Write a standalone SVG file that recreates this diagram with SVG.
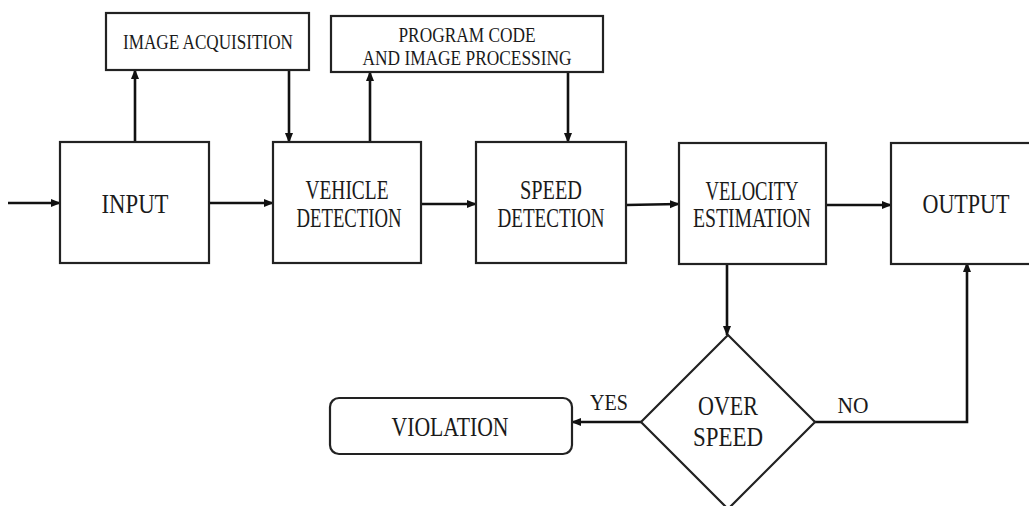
<svg xmlns="http://www.w3.org/2000/svg" width="1029" height="506" viewBox="0 0 1029 506">
<style>
.box{fill:#fff;stroke:#222;stroke-width:2.2}
.t{font-family:"Liberation Serif","Times New Roman",serif;fill:#1a1a1a;text-anchor:middle}
.big{font-size:27px}
.sm{font-size:20px}
.ln{fill:none;stroke:#111;stroke-width:2.6}
</style>
<defs>
<marker id="ah" viewBox="0 0 10 10" refX="9" refY="5" markerWidth="4" markerHeight="4" orient="auto" markerUnits="strokeWidth">
<path d="M0,1 L10,5 L0,9 z" fill="#111"/>
</marker>
</defs>
<rect width="1029" height="506" fill="#fff"/>
<g id="connectors">
<path class="ln" d="M8,203 L60,203" marker-end="url(#ah)"/>
<path class="ln" d="M209,203 L273,203" marker-end="url(#ah)"/>
<path class="ln" d="M421,204 L476,204" marker-end="url(#ah)"/>
<path class="ln" d="M626,205 L679,204" marker-end="url(#ah)"/>
<path class="ln" d="M826,205 L891,205" marker-end="url(#ah)"/>
<path class="ln" d="M135,142 L135,70" marker-end="url(#ah)"/>
<path class="ln" d="M289,70 L289,142" marker-end="url(#ah)"/>
<path class="ln" d="M370,142 L370,72" marker-end="url(#ah)"/>
<path class="ln" d="M568,72 L568,142" marker-end="url(#ah)"/>
<path class="ln" d="M727,263 L727,335" marker-end="url(#ah)"/>
<path class="ln" d="M641,422 L572,422" marker-end="url(#ah)"/>
<path class="ln" d="M815,422 L967,422 L967,263" marker-end="url(#ah)"/>
<text class="t" x="609" y="410" font-size="23" textLength="38" lengthAdjust="spacingAndGlyphs">YES</text>
<text class="t" x="853" y="413" font-size="23" textLength="31" lengthAdjust="spacingAndGlyphs">NO</text>
</g>
<g id="image-acquisition">
<rect class="box" x="106" y="13" width="203" height="57"/>
<text class="t sm" x="208" y="49" textLength="170" lengthAdjust="spacingAndGlyphs">IMAGE ACQUISITION</text>
</g>
<g id="program-code">
<rect class="box" x="331" y="16" width="272" height="56"/>
<text class="t sm" x="467" y="42" textLength="137" lengthAdjust="spacingAndGlyphs">PROGRAM CODE</text>
<text class="t sm" x="467" y="65" textLength="209" lengthAdjust="spacingAndGlyphs">AND IMAGE PROCESSING</text>
</g>
<g id="input">
<rect class="box" x="60" y="142" width="149" height="121"/>
<text class="t big" x="135" y="213" textLength="67" lengthAdjust="spacingAndGlyphs">INPUT</text>
</g>
<g id="vehicle-detection">
<rect class="box" x="273" y="142" width="148" height="121"/>
<text class="t big" x="347" y="199" textLength="83" lengthAdjust="spacingAndGlyphs">VEHICLE</text>
<text class="t big" x="349" y="227" textLength="105" lengthAdjust="spacingAndGlyphs">DETECTION</text>
</g>
<g id="speed-detection">
<rect class="box" x="476" y="142" width="150" height="121"/>
<text class="t big" x="551" y="199" textLength="62" lengthAdjust="spacingAndGlyphs">SPEED</text>
<text class="t big" x="551" y="227" textLength="107" lengthAdjust="spacingAndGlyphs">DETECTION</text>
</g>
<g id="velocity-estimation">
<rect class="box" x="679" y="143" width="147" height="121"/>
<text class="t big" x="752" y="200" textLength="93" lengthAdjust="spacingAndGlyphs">VELOCITY</text>
<text class="t big" x="752" y="227" textLength="118" lengthAdjust="spacingAndGlyphs">ESTIMATION</text>
</g>
<g id="output">
<rect class="box" x="891" y="143" width="150" height="121"/>
<text class="t big" x="966" y="213" textLength="87" lengthAdjust="spacingAndGlyphs">OUTPUT</text>
</g>
<g id="over-speed">
<path class="box" d="M728,335 L815,422 L728,509 L641,422 z"/>
<text class="t big" x="728" y="415" textLength="60" lengthAdjust="spacingAndGlyphs">OVER</text>
<text class="t big" x="728" y="446" textLength="70" lengthAdjust="spacingAndGlyphs">SPEED</text>
</g>
<g id="violation">
<rect class="box" x="330" y="398" width="242" height="56" rx="9"/>
<text class="t big" x="450" y="436" textLength="117" lengthAdjust="spacingAndGlyphs">VIOLATION</text>
</g>
</svg>
